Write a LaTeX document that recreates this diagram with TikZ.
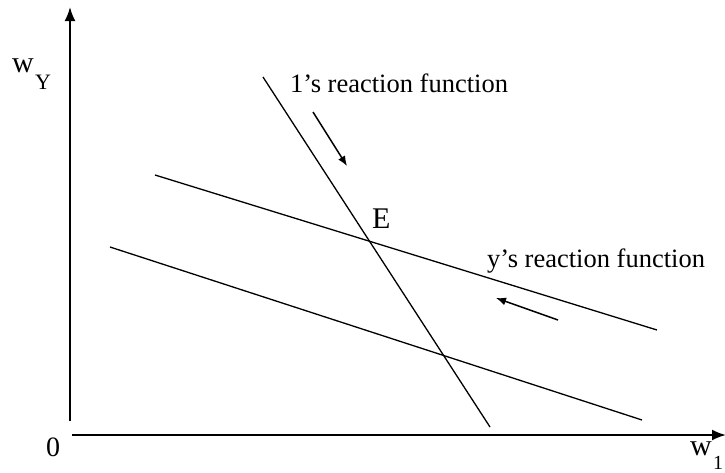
\documentclass[tikz,border=0pt]{standalone}
\usepackage{fontspec}
\setmainfont{Liberation Serif}
\usetikzlibrary{arrows.meta}
\begin{document}
\begin{tikzpicture}[x=1pt,y=-1pt,
  axis/.style={line width=2pt,-{Latex[length=14pt,width=11pt]}},
  curve/.style={line width=1.3pt},
  move/.style={line width=1.5pt,-{Latex[length=10pt,width=8pt]}},
  lbl/.style={inner sep=0pt,anchor=base west,font=\fontsize{26.5}{30}\selectfont}]
\useasboundingbox (0,0) rectangle (725,472);
% axes
\coordinate (ybot) at (70,421);
\coordinate (ytop) at (70,7);
\coordinate (xl) at (72,435);
\coordinate (xr) at (726,435);
\draw[axis] (ybot) -- (ytop);
\draw[axis] (xl) -- (xr);
% reaction functions
\coordinate (a1) at (263,77);
\coordinate (a2) at (490,427);
\coordinate (b1) at (155,175);
\coordinate (b2) at (657,330);
\coordinate (c1) at (110,247);
\coordinate (c2) at (642,420);
\draw[curve] (a1) -- (a2);
\draw[curve] (b1) -- (b2);
\draw[curve] (c1) -- (c2);
% movement arrows
\coordinate (m1s) at (313,112);
\coordinate (m1e) at (347,166);
\coordinate (m2s) at (558,320);
\coordinate (m2e) at (496,298);
\draw[move] (m1s) -- (m1e);
\draw[move] (m2s) -- (m2e);
% labels
\node[lbl] (l1) at (290,92) {1’s reaction function};
\node[lbl] (l2) at (487,267) {y’s reaction function};
\node[lbl,font=\fontsize{30}{34}\selectfont] (E) at (372,228) {E};
\node[lbl,font=\fontsize{30}{34}\selectfont] (wy) at (12,72) {w};
\node[lbl,font=\fontsize{22}{26}\selectfont] (Y) at (35,89) {Y};
\node[lbl,font=\fontsize{28}{32}\selectfont] (zero) at (46,456) {0};
\node[lbl,font=\fontsize{30}{34}\selectfont] (w1) at (690,455) {w};
\node[lbl,font=\fontsize{20}{24}\selectfont] (one) at (713,469) {1};
\end{tikzpicture}
\end{document}
